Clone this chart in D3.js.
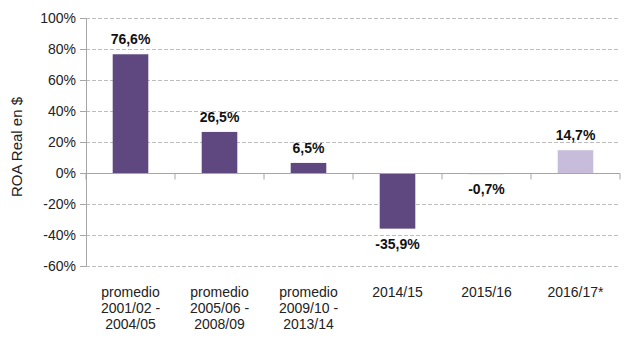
<!DOCTYPE html>
<html><head><meta charset="utf-8">
<script src="https://cdn.jsdelivr.net/npm/d3@7"></script>
<style>body{margin:0;background:#fff}svg{display:block}</style>
</head><body>
<svg id="c" width="640" height="343"></svg>
<script>
const categories = [
  ["promedio","2001/02 -","2004/05"],
  ["promedio","2005/06 -","2008/09"],
  ["promedio","2009/10 -","2013/14"],
  ["2014/15"],["2015/16"],["2016/17*"]
];
const values = [76.6, 26.5, 6.5, -35.9, -0.7, 14.7];
const labels = ["76,6%","26,5%","6,5%","-35,9%","-0,7%","14,7%"];
const highlight = [false,false,false,false,false,true];
const yTicks = [-60,-40,-20,0,20,40,60,80,100];

(function(){
const svg = d3.select("#c");
const mLeft = 86, mRight = 620, mTop = 18, mBottom = 266;
const font = "'Liberation Sans', Arial, sans-serif";
const x = d3.scaleBand().domain(d3.range(values.length)).range([mLeft, mRight]).paddingInner(0.6).paddingOuter(0.3);
const xb = d3.scaleBand().domain(d3.range(values.length)).range([mLeft, mRight]);
const y = d3.scaleLinear().domain([-60, 100]).range([mBottom, mTop]);

svg.append("g").selectAll("line").data(yTicks.filter(t=>t!==0)).join("line")
  .attr("x1", mLeft).attr("x2", mRight).attr("y1", d=>y(d)+0.5).attr("y2", d=>y(d)+0.5)
  .attr("stroke", "#bdbdbd").attr("stroke-width", 1).attr("stroke-dasharray", "4,2");

const ya = svg.append("g").attr("transform", `translate(${mLeft},0)`)
  .call(d3.axisLeft(y).tickValues(yTicks).tickSize(6).tickPadding(4).tickFormat(d=>d+"%"));
ya.select(".domain").attr("stroke","#a6a6a6");
ya.selectAll(".tick line").attr("stroke","#a6a6a6");
ya.selectAll("text").attr("font-family", font).attr("font-size", 14).attr("fill","#222");

svg.append("g").selectAll("rect").data(values).join("rect")
  .attr("x", (d,i)=>x(i)).attr("width", x.bandwidth())
  .attr("y", d=>y(Math.max(0,d))).attr("height", d=>Math.max(1, Math.abs(y(d)-y(0))))
  .attr("fill", (d,i)=> highlight[i] ? "#c7bcd9" : "#5f477f");

const xa = svg.append("g").attr("transform", `translate(0,${y(0)+0.5})`);
xa.append("line").attr("x1", mLeft).attr("x2", mRight).attr("stroke","#a6a6a6");
xa.selectAll("line.t").data(d3.range(values.length+1)).join("line").attr("class","t")
  .attr("x1", i=> i<values.length ? xb(i) : mRight).attr("x2", i=> i<values.length ? xb(i) : mRight)
  .attr("y1", 0).attr("y2", 6).attr("stroke","#a6a6a6");

svg.append("g").selectAll("text").data(values).join("text")
  .attr("x", (d,i)=>x(i)+x.bandwidth()/2)
  .attr("y", d=> d>=0 ? y(d)-10 : y(d)+20)
  .attr("text-anchor","middle").attr("font-family", font).attr("font-size", 14).attr("font-weight","bold")
  .attr("fill","#111").text((d,i)=>labels[i]);

const cg = svg.append("g");
categories.forEach((lines,i)=>{
  const cx = xb(i)+xb.bandwidth()/2;
  const t = cg.append("text").attr("x", cx).attr("y", 297)
    .attr("text-anchor","middle").attr("font-family", font).attr("font-size", 14).attr("fill","#222");
  lines.forEach((l,j)=> t.append("tspan").attr("x", cx).attr("dy", j?16:0).text(l));
});

svg.append("text").attr("transform", `translate(22,147) rotate(-90)`)
  .attr("text-anchor","middle").attr("font-family", font).attr("font-size", 15).attr("fill","#222")
  .text("ROA Real en $");
})();
</script>
</body></html>
